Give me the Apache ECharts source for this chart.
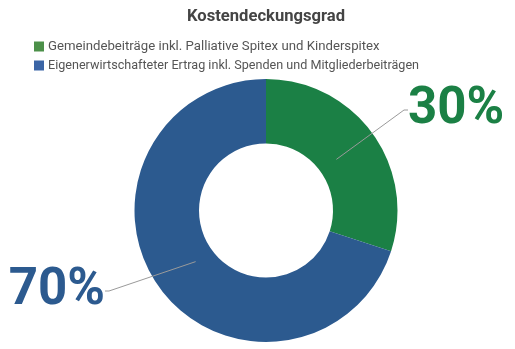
<!DOCTYPE html>
<html>
<head>
<meta charset="utf-8">
<script src="https://cdn.jsdelivr.net/npm/echarts@6/dist/echarts.min.js"></script>
<style>
  html, body { margin: 0; padding: 0; background: #ffffff; }
  #chart { width: 515px; height: 349px; }
</style>
</head>
<body>
<div id="chart"></div>
<script>
// Cost coverage split
const titleText = 'Kostendeckungsgrad';
const categories = [
  'Gemeindebeiträge inkl. Palliative Spitex und Kinderspitex',
  'Eigenerwirtschafteter Ertrag inkl. Spenden und Mitgliederbeiträgen'
];
const shares = [30, 70];
const sliceColors = ['#1b8045', '#2c5a8f'];
const legendColors = ['#4c9049', '#3b65a6'];

const chart = echarts.init(document.getElementById('chart'), null, { renderer: 'canvas' });

const ringData = categories.map((name, i) => ({
  name: name,
  value: shares[i],
  itemStyle: { color: sliceColors[i] }
}));

// invisible inner pie that carries the percentage labels and their guide lines
const labelData = categories.map((name, i) => ({
  name: name,
  value: shares[i],
  itemStyle: { color: 'rgba(0,0,0,0)' },
  label: { color: sliceColors[i] }
}));

const legendText = { fontFamily: 'Roboto', fontSize: 13.2, color: '#555555' };

const option = {
  backgroundColor: '#ffffff',
  animation: false,
  title: {
    text: titleText,
    left: 182,
    top: 3,
    textStyle: {
      fontFamily: 'Roboto',
      fontWeight: 'bold',
      fontSize: 16.6,
      color: '#444444'
    }
  },
  legend: {
    orient: 'vertical',
    left: 29,
    top: 35,
    itemWidth: 10,
    itemHeight: 10,
    itemGap: 6,
    icon: 'rect',
    selectedMode: false,
    data: categories.map((name, i) => ({
      name: name,
      itemStyle: { color: legendColors[i] }
    })),
    formatter: function (name) {
      return categories.indexOf(name) === 0 ? '{a|' + name + '}' : '{b|' + name + '}';
    },
    textStyle: Object.assign({}, legendText, {
      padding: [0, 0, 0, -1],
      rich: {
        a: Object.assign({}, legendText),
        b: Object.assign({}, legendText, { fontSize: 12.6 })
      }
    })
  },
  series: [
    {
      type: 'pie',
      name: 'ring',
      center: [266, 210.5],
      radius: [67, 131.5],
      startAngle: 90,
      clockwise: true,
      silent: true,
      label: { show: false },
      labelLine: { show: false },
      data: ringData
    },
    {
      type: 'pie',
      name: 'labels',
      center: [266, 210.5],
      radius: [0, 87],
      startAngle: 90,
      clockwise: true,
      silent: true,
      z: 5,
      legendHoverLink: false,
      label: {
        show: true,
        position: 'outside',
        formatter: '{c}%',
        fontFamily: 'Roboto',
        fontWeight: 'bold',
        fontSize: 51,
        padding: [0, 4]
      },
      labelLine: {
        show: true,
        length: 40,
        length2: 4,
        lineStyle: { color: '#9a9a9a', width: 1 }
      },
      labelLayout: function (params) {
        if (params.dataIndex === 0) {
          return { x: 404, y: 110, align: 'left', verticalAlign: 'middle' };
        }
        return { x: 109, y: 291, align: 'right', verticalAlign: 'middle' };
      },
      data: labelData
    }
  ]
};

chart.setOption(option);
</script>
</body>
</html>
